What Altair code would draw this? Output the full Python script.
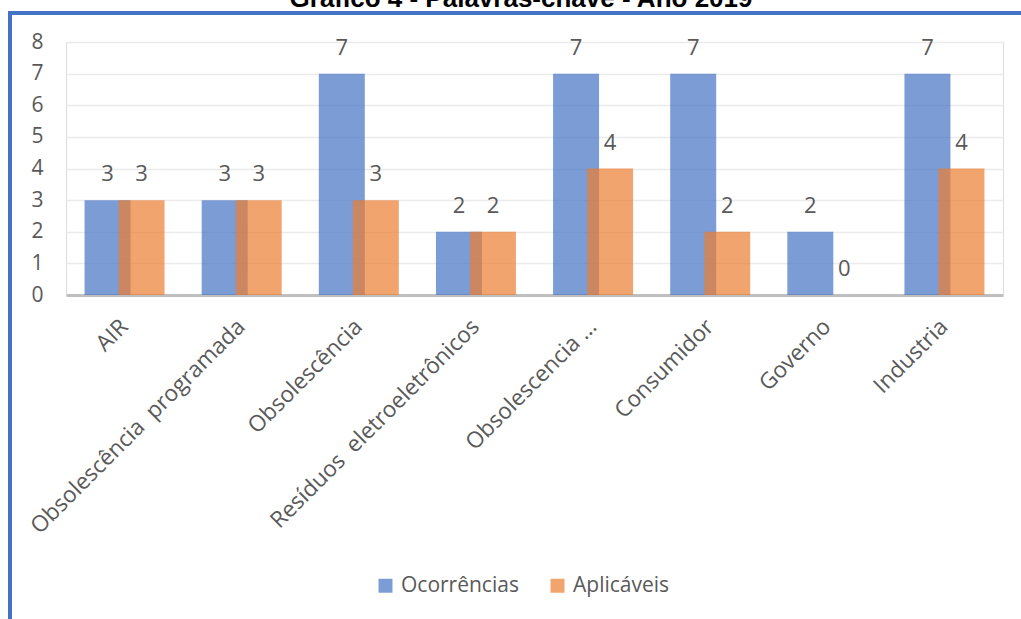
import altair as alt
import pandas as pd

categories = ["AIR", "Obsolescência \u00a0programada", "Obsolescência",
              "Resíduos \u00a0eletroeletrônicos", "Obsolescencia \u2026",
              "Consumidor", "Governo", "Industria"]
ocorrencias = [3, 3, 7, 2, 7, 7, 2, 7]
aplicaveis = [3, 3, 3, 2, 4, 2, 0, 4]
series = ["Ocorrências", "Aplicáveis"]
colors = ["#4472C4", "#ED7D31"]
y_ticks = [0, 1, 2, 3, 4, 5, 6, 7, 8]
title_text = "Gráfico 4 - Palavras-chave - Ano 2019"

rows = []
for c, o, a in zip(categories, ocorrencias, aplicaveis):
    rows.append({"cat": c, "serie": series[0], "valor": o})
    rows.append({"cat": c, "serie": series[1], "valor": a})
df = pd.DataFrame(rows)

FONT = "Open Sans"
GREY = "#595959"

x_enc = alt.X("cat:N", sort=categories, title=None,
              scale=alt.Scale(paddingInner=0, paddingOuter=0),
              axis=alt.Axis(labelAngle=-45, labelAlign="right", labelBaseline="top",
                            labelFont=FONT, labelFontSize=22.5, labelColor=GREY,
                            labelPadding=20, labelOffset=-8, ticks=False,
                            domainColor="#BFBFBF", domainWidth=3, grid=False,
                            labelLimit=400))
y_enc = alt.Y("valor:Q", title=None,
              scale=alt.Scale(domain=[0, 8], nice=False),
              axis=alt.Axis(values=y_ticks, tickCount=9, labelOverlap=False,
                            labelFont=FONT, labelFontSize=21,
                            labelColor=GREY, labelPadding=23, ticks=False,
                            domain=False, gridColor="#EBEBEB", gridWidth=1.5))
color_enc = alt.Color("serie:N", sort=series,
                      scale=alt.Scale(domain=series, range=colors),
                      legend=alt.Legend(orient="none", legendX=309, legendY=533,
                                        direction="horizontal", title=None,
                                        symbolType="square", symbolSize=196,
                                        symbolOpacity=0.7, symbolStrokeWidth=0,
                                        labelFont=FONT, labelFontSize=21,
                                        labelColor=GREY, columnPadding=28,
                                        labelOffset=5))

base = alt.Chart(df)
offsets = {series[0]: -17, series[1]: 17}

layers = []
for s in series:
    f = base.transform_filter(alt.datum.serie == s)
    layers.append(f.mark_bar(width=46, xOffset=offsets[s], opacity=0.7).encode(
        x=x_enc, y=y_enc, color=color_enc))
for s in series:
    f = base.transform_filter(alt.datum.serie == s)
    layers.append(f.mark_text(dx=offsets[s], dy=-26, baseline="middle",
                              font=FONT, fontSize=22, color=GREY).encode(
        x=x_enc, y=y_enc, text=alt.Text("valor:Q")))

deco_data = alt.Data(values=[{"k": 0}])
frame_left = alt.Chart(deco_data).mark_rule(color="#4472C4", strokeWidth=4).encode(
    x=alt.value(-56), y=alt.value(-31), y2=alt.value(600))
frame_top = alt.Chart(deco_data).mark_rule(color="#4472C4", strokeWidth=4).encode(
    x=alt.value(-58), x2=alt.value(970), y=alt.value(-29))
title_mark = alt.Chart(deco_data).mark_text(
    font="Liberation Sans", fontSize=26, fontWeight="bold", color="black",
    align="center", baseline="alphabetic").encode(
    x=alt.value(455), y=alt.value(-35), text=alt.value(title_text))

chart = alt.layer(*layers, frame_left, frame_top, title_mark).properties(
    width=937, height=253,
    autosize=alt.AutoSizeParams(type="none"),
    padding={"left": 66, "top": 42, "right": 18, "bottom": 324},
).configure_view(stroke=None).configure(background="white")

chart.save("out.html", embed_options={"renderer": "svg", "actions": False})
